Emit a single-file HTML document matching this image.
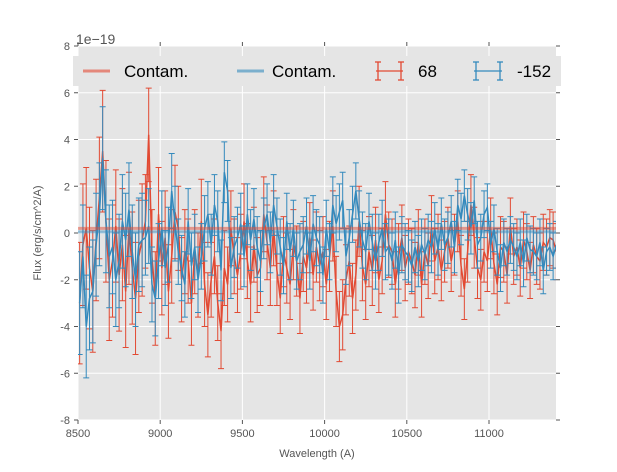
<!DOCTYPE html>
<html><head><meta charset="utf-8"><style>
body{margin:0;background:#fff;font-family:"Liberation Sans","DejaVu Sans",sans-serif}
svg text{font-family:"Liberation Sans","DejaVu Sans",sans-serif}
</style></head><body>
<svg id="chart" width="617" height="467" xmlns="http://www.w3.org/2000/svg">
<defs><clipPath id="pc"><rect x="78" y="46" width="478" height="374"/></clipPath></defs>
<rect x="78" y="46" width="478" height="374" fill="#e5e5e5"/>
<g id="grid"></g><g id="ticks"></g>
<g id="series" clip-path="url(#pc)"></g>
<text x="76" y="44" font-size="14" fill="#555">1e−19</text>
<text x="317" y="457" font-size="11" fill="#555" text-anchor="middle">Wavelength (A)</text>
<text x="41" y="233" font-size="11" fill="#555" text-anchor="middle" transform="rotate(-90 41 233)">Flux (erg/s/cm^2/A)</text>
<g>
<rect x="73" y="56" width="488" height="30" fill="#e5e5e5"/>
<g><line x1="83" y1="71" x2="110" y2="71" stroke="#E24A33" stroke-opacity="0.6" stroke-width="3"/><text x="124" y="77" font-size="17">Contam.</text></g>
<g><line x1="237" y1="71" x2="264" y2="71" stroke="#348ABD" stroke-opacity="0.6" stroke-width="3"/><text x="272" y="77" font-size="17">Contam.</text></g>
<g stroke="#E24A33" stroke-width="1.3"><line x1="376" y1="71" x2="403" y2="71"/><line x1="378" y1="62" x2="378" y2="80"/><line x1="401" y1="62" x2="401" y2="80"/><line x1="375" y1="62" x2="381" y2="62"/><line x1="375" y1="80" x2="381" y2="80"/><line x1="398" y1="62" x2="404" y2="62"/><line x1="398" y1="80" x2="404" y2="80"/></g>
<text x="418" y="77" font-size="17">68</text>
<g stroke="#348ABD" stroke-width="1.3"><line x1="474" y1="71" x2="502" y2="71"/><line x1="476" y1="62" x2="476" y2="80"/><line x1="500" y1="62" x2="500" y2="80"/><line x1="473" y1="62" x2="479" y2="62"/><line x1="473" y1="80" x2="479" y2="80"/><line x1="497" y1="62" x2="503" y2="62"/><line x1="497" y1="80" x2="503" y2="80"/></g>
<text x="517" y="77" font-size="17">-152</text>
</g>
</svg>
<script>
const xStart=8510, xStep=20;
const xTicks=[8500,9000,9500,10000,10500,11000];
const yTicks=[-8,-6,-4,-2,0,2,4,6,8];
const redVals=[-3,-0.5,0.2,-1.5,-2.5,-0.3,1.5,3.5,0.5,-2,-1.2,0.3,-1.8,-0.5,-2.5,0.2,-1.5,-2.8,-1,-0.3,
0.5,4.2,-1,-2.8,0.8,-1.5,-0.2,-2.5,-1,0.9,0.2,-2,-0.8,-1.2,-3,-0.8,-1.8,0.5,-2.2,-3.5,
-2,-1,-3,-4.2,-1.5,-2.2,0.2,-1,-1.8,-0.8,0.5,-1.2,-2.2,-0.5,-1.8,-1.5,0.8,-0.4,-1.5,0.2,
-1.6,-2.8,-0.8,-1.5,-2.2,-0.5,-1.2,-2.8,-1,-1.5,-0.2,-1.8,-0.6,-1.4,-0.8,-2.2,-1,0.3,-2.5,-4,
-3.5,-2,-1.2,-2.8,-1.8,0.5,-1.4,-2.2,-0.8,-1.6,-0.3,-2,-1.2,0.8,-0.5,-0.8,-2.2,-1,-0.2,-1.5,
-0.8,-1.2,-1.8,-0.4,-2.2,-0.8,-1.4,0.2,-1.2,-0.6,-1.6,-0.8,-0.2,-1.2,-0.5,0.5,-1.4,-2.4,-0.8,1.2,
-0.2,-1.5,-2,-0.8,-1.2,0.2,-1.3,-2.2,-0.6,-0.8,-1.8,0.3,-1,-0.6,-1.5,-0.3,-0.8,-1.6,-0.5,-1,-1.2,-0.4,-0.6,-0.2,-0.3,-0.8];
const blueVals=[-3,-1,-4,-2.8,-2.5,-0.5,0.8,3.2,0.5,-1,-0.6,-2,-1.2,0.5,-0.3,1,-0.8,-2,-0.5,-0.3,
-0.2,0.3,-2.2,-2.8,-1.2,0.2,-1.5,-0.5,1.8,0.4,-0.8,-1.5,-2.2,0.5,-1.4,-0.6,-2,-1,0.2,0.8,
-0.5,1.2,0.5,-1.6,2.6,1.8,-1.5,-0.6,-0.2,0.4,-1,0.8,-0.3,0.6,-0.6,-1.2,0.2,0.8,-0.4,1.2,
0.3,-0.6,-1.4,0.5,-0.8,0.2,-1.2,-0.8,-0.5,0.3,-1.2,0.4,-0.2,-0.5,-1.8,0.2,-0.8,1.2,0.4,0.9,
1.4,-1,-0.2,0.8,1.8,0.6,-0.3,-0.8,0.5,-0.4,-1.2,-0.4,0.2,-0.8,-0.6,-1.2,-0.3,-1.8,-0.5,-0.8,
-1,-1.4,-0.6,-1.2,-0.5,-0.9,-0.3,-0.6,0.2,-0.7,0.4,-0.5,-0.2,0.5,-0.6,1.2,0.6,1.6,0.8,0.2,
1.4,-0.5,-0.2,0.8,1.1,-0.5,0.2,-0.8,-1.5,-0.4,-0.8,-0.3,-0.6,-1,-0.4,-1.3,-0.2,-0.7,-0.8,-1,-0.4,-1.6,-0.8,-0.6,-1,-0.5];
const redErrBlocks=[2.6,2.4,2.0,1.8,1.6,1.6,1.5,1.5,1.5,1.4,1.4,1.3,1.3,1.2,1.2];
const blueErrBlocks=[2.2,2.0,1.6,1.4,1.3,1.3,1.2,1.2,1.2,1.2,1.1,1.1,1.0,1.0,1.0];
const contamRed=0.2, contamBlue=0.05;
const X=v=>78+(v-8500)*82.2/500;
const Y=v=>233-v*23.375;
const NS="http://www.w3.org/2000/svg";
function mk(tag,attrs,parent){const e=document.createElementNS(NS,tag);for(const k in attrs)e.setAttribute(k,attrs[k]);parent.appendChild(e);return e;}
const grid=document.getElementById('grid'),ticks=document.getElementById('ticks'),ser=document.getElementById('series');
xTicks.forEach(t=>{const x=X(t);
 const g=mk('line',{x1:x,x2:x,y1:46,y2:420,stroke:'#fff','stroke-width':1},grid);
 
 
 mk('line',{x1:x,x2:x,y1:420,y2:424,stroke:'#555'},ticks);
 mk('line',{x1:x,x2:x,y1:46,y2:42,stroke:'#555'},ticks);
 const tx=mk('text',{x:x,y:437,'font-size':11,fill:'#555','text-anchor':'middle'},ticks);tx.textContent=t;
 
 
});
yTicks.forEach(t=>{const y=Y(t);
 const g=mk('line',{x1:78,x2:556,y1:y,y2:y,stroke:'#fff','stroke-width':1},grid);
 
 
 mk('line',{x1:74,x2:78,y1:y,y2:y,stroke:'#555'},ticks);
 mk('line',{x1:556,x2:560,y1:y,y2:y,stroke:'#555'},ticks);
 const tx=mk('text',{x:70,y:y+4,'font-size':11,fill:'#555','text-anchor':'end'},ticks);tx.textContent=t;
 
 
});
function drawSeries(vals,errs,color,name){
 const g=mk('g',{stroke:color,'stroke-width':1.2,fill:'none'},ser);
 
 
 let d='';
 vals.forEach((v,i)=>{const x=X(xStart+i*xStep);const e=errs[Math.min(errs.length-1,Math.floor(i/10))];
  const y1=Y(v+e),y2=Y(v-e);
  mk('path',{d:`M${x},${y1}V${y2}M${x-3},${y1}H${x+3}M${x-3},${y2}H${x+3}`,'stroke-width':1},g);
  d+=(i?'L':'M')+x+','+Y(v);});
 mk('path',{d:d,'stroke-width':1.5},g);
}
drawSeries(redVals,redErrBlocks,'#E24A33','series-68');
drawSeries(blueVals,blueErrBlocks,'#348ABD','series-minus152');
const c1=mk('line',{x1:78,x2:556,y1:Y(contamRed),y2:Y(contamRed),stroke:'#E24A33','stroke-opacity':0.5,'stroke-width':3},ser);


const c2=mk('line',{x1:78,x2:556,y1:Y(contamBlue),y2:Y(contamBlue),stroke:'#348ABD','stroke-opacity':0.5,'stroke-width':3},ser);


</script>
</body></html>
